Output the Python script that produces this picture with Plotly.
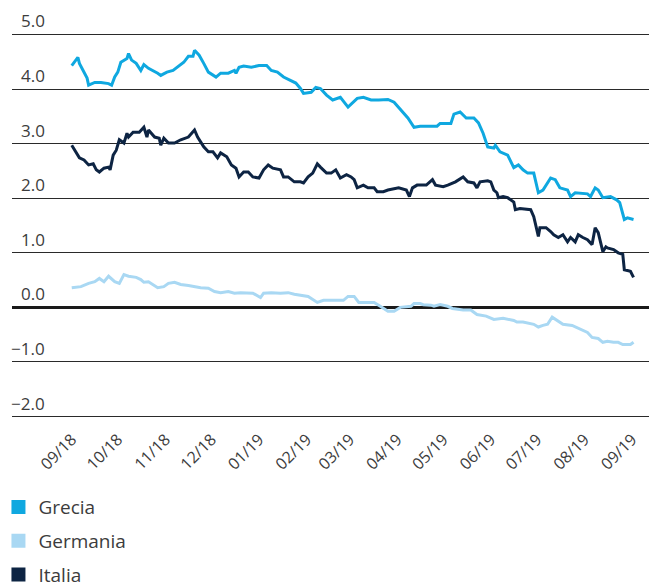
import plotly.graph_objects as go

# ---------------- data ----------------
grecia_dates = ["2018-08-28","2018-09-01","2018-09-02","2018-09-05","2018-09-07","2018-09-08","2018-09-12","2018-09-16",
"2018-09-21","2018-09-23","2018-09-25","2018-09-27","2018-09-29","2018-10-03","2018-10-04","2018-10-06","2018-10-09",
"2018-10-12","2018-10-14","2018-10-17","2018-10-20","2018-10-23","2018-10-25","2018-10-29","2018-11-02","2018-11-05",
"2018-11-09","2018-11-12","2018-11-15","2018-11-16","2018-11-19","2018-11-22","2018-11-25","2018-11-30","2018-12-03",
"2018-12-08","2018-12-12","2018-12-13","2018-12-15","2018-12-18","2018-12-23","2018-12-28","2019-01-02","2019-01-05",
"2019-01-09","2019-01-13","2019-01-18","2019-01-21","2019-01-24","2019-01-26","2019-01-31","2019-02-03","2019-02-06",
"2019-02-10","2019-02-14","2019-02-17","2019-02-19","2019-02-24","2019-03-02","2019-03-06","2019-03-11","2019-03-16",
"2019-03-22","2019-03-26","2019-04-01","2019-04-04","2019-04-08","2019-04-12","2019-04-17","2019-04-23","2019-04-25",
"2019-05-02","2019-05-04","2019-05-08","2019-05-12","2019-05-17","2019-05-20","2019-05-23","2019-05-26","2019-05-30",
"2019-05-31","2019-06-03","2019-06-08","2019-06-12","2019-06-15","2019-06-18","2019-06-21","2019-06-25","2019-06-26",
"2019-06-28","2019-07-01","2019-07-03","2019-07-06","2019-07-09","2019-07-12","2019-07-17","2019-07-19","2019-07-22",
"2019-07-30","2019-08-01","2019-08-04","2019-08-06","2019-08-09","2019-08-14","2019-08-18","2019-08-20","2019-08-23",
"2019-08-25","2019-08-29"]
grecia_values = [4.43,4.58,4.47,4.31,4.20,4.07,4.12,4.12,
4.10,4.07,4.22,4.31,4.49,4.56,4.65,4.53,4.47,
4.34,4.45,4.38,4.34,4.29,4.25,4.31,4.34,4.40,
4.49,4.60,4.60,4.71,4.62,4.47,4.31,4.22,4.29,
4.29,4.34,4.29,4.40,4.42,4.40,4.43,4.43,4.34,
4.31,4.22,4.16,4.11,4.01,3.92,3.94,4.03,4.01,
3.89,3.80,3.83,3.85,3.67,3.83,3.85,3.80,3.80,
3.81,3.76,3.56,3.47,3.30,3.32,3.32,3.32,3.37,
3.37,3.54,3.58,3.47,3.47,3.38,3.19,2.94,2.92,
2.97,2.85,2.79,2.56,2.61,2.52,2.46,2.46,2.34,
2.10,2.15,2.24,2.37,2.34,2.19,2.15,2.03,2.10,
2.08,2.03,2.19,2.15,2.01,2.03,1.97,1.92,1.61,
1.64,1.61]

germania_dates = ["2018-08-28","2018-09-03","2018-09-08","2018-09-12","2018-09-15","2018-09-18","2018-09-21","2018-09-25",
"2018-09-28","2018-10-01","2018-10-04","2018-10-09","2018-10-12","2018-10-14","2018-10-17","2018-10-23","2018-10-27",
"2018-10-30","2018-11-03","2018-11-07","2018-11-12","2018-11-16","2018-11-20","2018-11-25","2018-11-29","2018-12-03",
"2018-12-08","2018-12-12","2018-12-16","2018-12-24","2018-12-29","2018-12-31","2019-01-05","2019-01-11","2019-01-16",
"2019-01-20","2019-01-24","2019-01-29","2019-02-04","2019-02-08","2019-02-13","2019-02-21","2019-02-24","2019-02-28",
"2019-03-03","2019-03-13","2019-03-17","2019-03-22","2019-03-26","2019-03-30","2019-04-06","2019-04-08","2019-04-12",
"2019-04-14","2019-04-19","2019-04-21","2019-04-25","2019-04-30","2019-05-03","2019-05-10","2019-05-15","2019-05-19",
"2019-05-25","2019-05-30","2019-06-05","2019-06-12","2019-06-14","2019-06-18","2019-06-25","2019-06-28","2019-07-01",
"2019-07-04","2019-07-07","2019-07-10","2019-07-14","2019-07-20","2019-07-25","2019-07-30","2019-08-02","2019-08-06",
"2019-08-09","2019-08-12","2019-08-16","2019-08-19","2019-08-22","2019-08-27","2019-08-29"]
germania_values = [0.36,0.38,0.44,0.47,0.53,0.47,0.57,0.47,
0.44,0.60,0.57,0.55,0.51,0.46,0.47,0.36,0.38,
0.44,0.46,0.42,0.40,0.38,0.36,0.35,0.29,0.27,
0.29,0.26,0.27,0.26,0.18,0.26,0.27,0.26,0.27,
0.24,0.22,0.20,0.09,0.13,0.13,0.13,0.20,0.20,
0.09,0.09,0.02,-0.07,-0.07,0.00,0.02,0.07,0.07,
0.05,0.04,0.02,0.05,0.02,-0.02,-0.05,-0.05,-0.13,
-0.16,-0.22,-0.20,-0.24,-0.27,-0.27,-0.31,-0.36,-0.33,
-0.31,-0.18,-0.24,-0.31,-0.33,-0.40,-0.46,-0.55,-0.57,
-0.64,-0.62,-0.64,-0.64,-0.68,-0.68,-0.64]

italia_dates = ["2018-08-28","2018-08-31","2018-09-02","2018-09-05","2018-09-08","2018-09-11","2018-09-13","2018-09-15",
"2018-09-18","2018-09-21","2018-09-22","2018-09-24","2018-09-26","2018-09-28","2018-10-01","2018-10-03","2018-10-04",
"2018-10-07","2018-10-11","2018-10-14","2018-10-16","2018-10-17","2018-10-21","2018-10-24","2018-10-25","2018-10-27",
"2018-10-30","2018-11-03","2018-11-07","2018-11-12","2018-11-16","2018-11-18","2018-11-22","2018-11-25","2018-11-28",
"2018-12-01","2018-12-03","2018-12-07","2018-12-10","2018-12-13","2018-12-15","2018-12-18","2018-12-21","2018-12-24",
"2018-12-28","2018-12-31","2019-01-03","2019-01-06","2019-01-11","2019-01-13","2019-01-16","2019-01-20","2019-01-24",
"2019-01-26","2019-01-29","2019-02-01","2019-02-04","2019-02-06","2019-02-10","2019-02-13","2019-02-16","2019-02-19",
"2019-02-23","2019-02-26","2019-02-28","2019-03-02","2019-03-06","2019-03-09","2019-03-13","2019-03-15","2019-03-19",
"2019-03-22","2019-03-29","2019-04-03","2019-04-05","2019-04-07","2019-04-10","2019-04-16","2019-04-20","2019-04-22",
"2019-04-27","2019-04-30","2019-05-05","2019-05-10","2019-05-13","2019-05-17","2019-05-19","2019-05-21","2019-05-26",
"2019-05-28","2019-05-30","2019-06-01","2019-06-02","2019-06-05","2019-06-08","2019-06-12","2019-06-13","2019-06-16",
"2019-06-23","2019-06-25","2019-06-27","2019-06-28","2019-06-29","2019-07-03","2019-07-06","2019-07-08","2019-07-11",
"2019-07-14","2019-07-17","2019-07-19","2019-07-22","2019-07-24","2019-07-27","2019-07-30","2019-08-02","2019-08-04",
"2019-08-06","2019-08-09","2019-08-11","2019-08-12","2019-08-16","2019-08-19","2019-08-22","2019-08-23","2019-08-27",
"2019-08-29"]
italia_values = [2.97,2.83,2.74,2.70,2.61,2.63,2.52,2.48,
2.55,2.57,2.52,2.79,2.88,3.07,3.01,3.19,3.12,
3.21,3.21,3.30,3.12,3.25,3.12,3.10,2.97,3.10,
3.01,3.01,3.07,3.12,3.25,3.12,2.94,2.85,2.85,
2.74,2.83,2.76,2.61,2.55,2.39,2.48,2.48,2.39,
2.37,2.52,2.61,2.55,2.52,2.39,2.39,2.30,2.30,
2.28,2.39,2.46,2.63,2.57,2.46,2.46,2.52,2.37,
2.43,2.39,2.34,2.19,2.24,2.19,2.19,2.12,2.12,
2.15,2.19,2.15,2.03,2.19,2.24,2.24,2.34,2.24,
2.21,2.24,2.30,2.39,2.30,2.28,2.19,2.30,2.32,
2.30,2.15,2.10,2.01,2.03,2.01,1.93,1.79,1.81,
1.79,1.66,1.39,1.30,1.46,1.46,1.39,1.33,1.28,
1.33,1.20,1.28,1.20,1.33,1.28,1.24,1.15,1.46,
1.37,1.02,1.11,1.09,1.06,1.00,0.97,0.69,0.66,
0.55]

tick_dates = ["2018-09-01","2018-10-01","2018-11-01","2018-12-01","2019-01-01","2019-02-01","2019-03-01",
              "2019-04-01","2019-05-01","2019-06-01","2019-07-01","2019-08-01","2019-09-01"]
tick_labels = ["09/18","10/18","11/18","12/18","01/19","02/19","03/19",
               "04/19","05/19","06/19","07/19","08/19","09/19"]
y_ticks = [-2, -1, 0, 1, 2, 3, 4, 5]
y_tick_labels = ["\u22122.0", "\u22121.0", "0.0", "1.0", "2.0", "3.0", "4.0", "5.0"]

series = [
    ("Grecia", grecia_dates, grecia_values, "#0fa8e0"),
    ("Germania", germania_dates, germania_values, "#a9d8f3"),
    ("Italia", italia_dates, italia_values, "#0d2443"),
]

FONT = "'Open Sans', Lato, sans-serif"
TXT = "#3c3c3c"

fig = go.Figure()
# draw order: Germania, Grecia, Italia
for name, d, v, c in [series[1], series[0], series[2]]:
    fig.add_trace(go.Scatter(x=d, y=v, mode="lines", line=dict(color=c, width=3),
                             showlegend=False, hoverinfo="skip"))
for name, d, v, c in series:
    fig.add_trace(go.Scatter(x=[None], y=[None], mode="markers", name=name, legendgroup=name,
                             marker=dict(symbol="square", size=14, color=c)))

for val, lab in zip(y_ticks, y_tick_labels):
    fig.add_annotation(x=0.055, xref="paper", y=val, yref="y", text=lab, showarrow=False,
                       xanchor="right", yanchor="bottom", yshift=0,
                       font=dict(family=FONT, size=17, color=TXT))

fig.update_layout(
    width=657, height=582,
    margin=dict(l=4, r=8, t=20.5, b=167.7, autoexpand=False),
    paper_bgcolor="white", plot_bgcolor="white",
    font=dict(family=FONT, color=TXT),
    xaxis=dict(type="date", range=["2018-07-20 02:00", "2019-09-13 07:00"],
               tickvals=tick_dates, ticktext=tick_labels, tickangle=-45,
               tickfont=dict(family=FONT, size=16, color=TXT), automargin=False,
               ticklabelstandoff=4, ticklabelshift=-6,
               showgrid=False, showline=False, zeroline=False, ticks=""),
    yaxis=dict(range=[-2.1, 5.1], tickvals=y_ticks, showticklabels=False, automargin=False,
               showgrid=True, gridcolor="#2a2a2a", gridwidth=1,
               zeroline=True, zerolinecolor="#1a1a1a", zerolinewidth=3,
               showline=False, ticks=""),
    legend=dict(xref="paper", yref="container", x=-0.021, y=0.175,
                xanchor="left", yanchor="top", orientation="v",
                tracegroupgap=6, font=dict(family=FONT, size=19, color=TXT),
                bgcolor="rgba(0,0,0,0)"),
)

fig.write_html("out.html")
